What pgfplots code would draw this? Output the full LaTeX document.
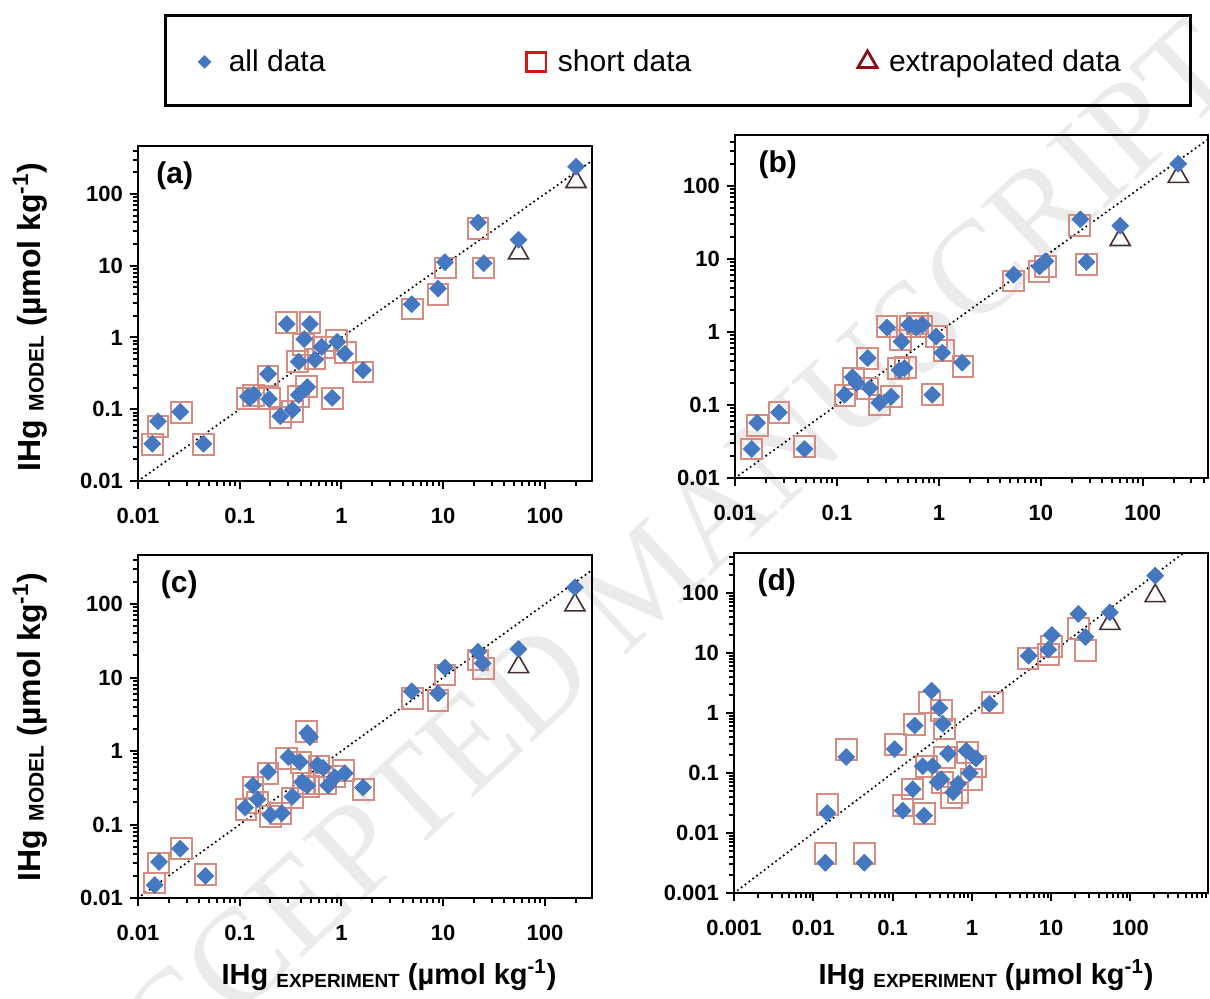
\documentclass[border=0pt]{standalone}
\usepackage{pgfplots}
\pgfplotsset{compat=1.18}
\usepackage{fontspec}
\setmainfont{Liberation Sans}
\newfontfamily\wmfont{Liberation Serif}

\definecolor{diam}{RGB}{68,120,192}
\definecolor{sq}{RGB}{214,140,128}
\definecolor{tri}{RGB}{70,45,45}
\definecolor{legred}{RGB}{220,20,20}
\definecolor{legtri}{RGB}{130,20,20}

\pgfplotsset{
  hgpanel/.style={
    scale only axis, anchor=north west,
    axis line style={line width=1.4pt},
    tick align=outside, xtick pos=left, ytick pos=left,
    major tick length=4pt, minor tick length=2.5pt,
    every tick/.style={black, line width=1pt},
    minor xtick={0.002,0.003,0.004,0.005,0.006,0.007,0.008,0.009,0.02,0.03,0.04,0.05,0.06,0.07,0.08,0.09,0.2,0.3,0.4,0.5,0.6,0.7,0.8,0.9,2,3,4,5,6,7,8,9,20,30,40,50,60,70,80,90,200,300,400,500,600,700,800,900},
    minor ytick={0.002,0.003,0.004,0.005,0.006,0.007,0.008,0.009,0.02,0.03,0.04,0.05,0.06,0.07,0.08,0.09,0.2,0.3,0.4,0.5,0.6,0.7,0.8,0.9,2,3,4,5,6,7,8,9,20,30,40,50,60,70,80,90,200,300,400},
    tick label style={font=\bfseries\fontsize{11}{13}\selectfont},
    xticklabel style={yshift=-6pt},
  },
  hgdiag/.style={black, no marks, line width=1.2pt, line cap=round, dash pattern=on 0pt off 2.4pt},
  hgsq/.style={only marks, mark=square, mark size=5.2pt, mark options={draw=sq, line width=1pt}},
  hgtri/.style={only marks, mark=triangle, mark size=5.8pt, mark options={draw=tri, line width=0.8pt}},
  hgdia/.style={only marks, mark=square*, mark size=3pt, mark options={rotate=45, fill=diam, draw=diam, line width=0.3pt}},
}

\begin{document}
\begin{tikzpicture}
\path[use as bounding box] (0pt,0pt) rectangle (605pt,-499pt);
\node[rotate=43, text=black!8, font=\wmfont\fontsize{66}{66}\selectfont] at (322pt,-290pt) {ACCEPTED MANUSCRIPT};
\draw[line width=1.5pt] (82.5pt,-7.5pt) rectangle (595pt,-52.5pt);

% (a)
\begin{loglogaxis}[hgpanel, at={(69pt,-73pt)}, width=227pt, height=167.5pt,
  xmin=0.01, xmax=290, ymin=0.01, ymax=465,
  xtick={0.01,0.1,1,10,100}, xticklabels={0.01,0.1,1,10,100},
  ytick={0.01,0.1,1,10,100}, yticklabels={0.01,0.1,1,10,100},
  legend style={at={(axis description cs:0.132,1.251)}, anchor=west, draw=none, fill=none,
    legend columns=3, inner sep=0pt, font=\fontsize{15}{18}\selectfont,
    /tikz/every even column/.append style={column sep=0pt}},
  legend cell align=left]
\addlegendimage{only marks, mark=square*, mark size=2.2pt, mark options={rotate=45, fill=diam, draw=diam}}
\addlegendimage{only marks, mark=square, mark size=4.8pt, mark options={draw=legred, line width=1.4pt}}
\addlegendimage{only marks, mark=triangle, mark size=5.5pt, mark options={draw=legtri, line width=1.4pt}}
\legend{\makebox[154pt][l]{\hspace{7pt}all data},\makebox[152pt][l]{\hspace{4pt}short data},\hspace{4pt}extrapolated data}
\addplot[hgdiag] coordinates {(0.01,0.01) (1000,1000)};
\addplot[hgsq] table {
x y
0.0139 0.032
0.0157 0.058
0.027 0.090
0.044 0.032
0.120 0.140
0.137 0.155
0.19 0.29
0.197 0.140
0.25 0.076
0.33 0.092
0.29 1.6
0.49 1.6
0.42 0.80
0.37 0.46
0.55 0.50
0.66 0.72
0.90 0.90
1.10 0.62
1.63 0.33
0.38 0.15
0.45 0.21
0.81 0.14
5.0 2.5
8.9 4.0
10.5 9.3
22 33
25 9.3
};
\addplot[hgtri] table {
x y
55 15
202 148
};
\addplot[hgdia] table {
x y
0.0138 0.033
0.0157 0.068
0.026 0.092
0.044 0.033
0.120 0.150
0.126 0.144
0.137 0.160
0.194 0.139
0.19 0.31
0.25 0.080
0.33 0.098
0.29 1.54
0.49 1.54
0.43 0.95
0.38 0.46
0.55 0.49
0.64 0.74
0.91 0.87
1.08 0.59
1.63 0.35
0.38 0.158
0.46 0.204
0.81 0.144
4.9 2.9
8.9 4.8
10.4 11.2
22 40
25 10.8
55 23
202 239
};
\node[anchor=north west, font=\bfseries\fontsize{15}{17}\selectfont] at (rel axis cs:0.025,0.975) {(a)};
\end{loglogaxis}

% (b)
\begin{loglogaxis}[hgpanel, at={(367.5pt,-67.5pt)}, width=236.5pt, height=171.5pt,
  xmin=0.01, xmax=436, ymin=0.01, ymax=500,
  xtick={0.01,0.1,1,10,100}, xticklabels={0.01,0.1,1,10,100},
  ytick={0.01,0.1,1,10,100}, yticklabels={0.01,0.1,1,10,100}]
\addplot[hgdiag] coordinates {(0.01,0.01) (1000,1000)};
\addplot[hgsq] table {
x y
0.0146 0.025
0.0165 0.053
0.027 0.078
0.048 0.027
0.12 0.135
0.145 0.23
0.20 0.17
0.20 0.43
0.26 0.10
0.34 0.13
0.31 1.2
0.40 0.32
0.47 0.33
0.42 0.78
0.52 1.2
0.62 1.3
0.68 1.2
0.95 0.87
1.12 0.56
0.86 0.14
1.72 0.34
5.4 5.0
9.6 6.8
11.2 8.0
24 29
28 8.5
};
\addplot[hgtri] table {
x y
60 18.4
223 135
};
\addplot[hgdia] table {
x y
0.0146 0.025
0.0165 0.057
0.027 0.079
0.048 0.025
0.119 0.138
0.142 0.24
0.156 0.20
0.21 0.17
0.20 0.44
0.26 0.107
0.34 0.13
0.31 1.15
0.41 0.30
0.46 0.32
0.43 0.74
0.51 1.26
0.60 1.15
0.69 1.26
0.94 0.87
1.08 0.52
0.86 0.138
1.69 0.38
5.4 6.1
9.7 7.9
11.1 9.3
24.4 35
28 9.1
60 28.6
223 202
};
\node[anchor=north west, font=\bfseries\fontsize{15}{17}\selectfont] at (rel axis cs:0.035,0.975) {(b)};
\end{loglogaxis}

% (c)
\begin{loglogaxis}[hgpanel, at={(69pt,-277.5pt)}, width=227pt, height=171.5pt,
  xmin=0.01, xmax=290, ymin=0.01, ymax=465,
  xtick={0.01,0.1,1,10,100}, xticklabels={0.01,0.1,1,10,100},
  ytick={0.01,0.1,1,10,100}, yticklabels={0.01,0.1,1,10,100}]
\addplot[hgdiag] coordinates {(0.01,0.01) (1000,1000)};
\addplot[hgsq] table {
x y
0.0146 0.016
0.0158 0.030
0.027 0.047
0.046 0.021
0.115 0.16
0.135 0.32
0.15 0.20
0.19 0.50
0.20 0.13
0.25 0.14
0.33 0.23
0.29 0.80
0.40 0.70
0.42 0.36
0.47 0.33
0.45 1.85
0.70 0.36
0.60 0.62
0.85 0.45
1.05 0.55
1.65 0.30
5.0 5.2
8.9 4.9
10.4 10.8
22 17.3
25 13.3
};
\addplot[hgtri] table {
x y
55 14
197 97
};
\addplot[hgdia] table {
x y
0.0146 0.015
0.0161 0.031
0.026 0.047
0.046 0.020
0.113 0.17
0.135 0.34
0.15 0.22
0.19 0.52
0.20 0.135
0.26 0.143
0.33 0.24
0.30 0.83
0.39 0.71
0.41 0.38
0.46 0.34
0.46 1.76
0.49 1.55
0.58 0.65
0.66 0.59
0.74 0.34
0.86 0.44
1.08 0.50
1.63 0.32
4.9 6.5
8.9 6.1
10.4 13.7
22 22.4
24.4 15.6
55 24.4
197 169
};
\node[anchor=north west, font=\bfseries\fontsize{15}{17}\selectfont] at (rel axis cs:0.035,0.975) {(c)};
\end{loglogaxis}

% (d)
\begin{loglogaxis}[hgpanel, at={(367pt,-276.5pt)}, width=237pt, height=170pt,
  xmin=0.001, xmax=950, ymin=0.001, ymax=465,
  xtick={0.001,0.01,0.1,1,10,100}, xticklabels={0.001,0.01,0.1,1,10,100},
  ytick={0.001,0.01,0.1,1,10,100}, yticklabels={0.001,0.01,0.1,1,10,100}]
\addplot[hgdiag] coordinates {(0.001,0.001) (1000,1000)};
\addplot[hgsq] table {
x y
0.0142 0.0046
0.015 0.030
0.026 0.25
0.044 0.0046
0.11 0.30
0.135 0.029
0.18 0.054
0.19 0.65
0.25 0.021
0.27 0.13
0.29 1.5
0.41 1.1
0.45 0.54
0.45 0.18
0.43 0.07
0.55 0.039
0.67 0.048
0.89 0.22
0.98 0.079
1.13 0.13
1.8 1.5
5.1 8.2
9.2 9.6
10.2 13
22 26
27 11
};
\addplot[hgtri] table {
x y
55 31
205 90
};
\addplot[hgdia] table {
x y
0.0142 0.0032
0.015 0.0216
0.026 0.185
0.044 0.0032
0.106 0.25
0.134 0.0236
0.18 0.054
0.19 0.62
0.25 0.0195
0.24 0.13
0.31 2.36
0.32 0.13
0.39 1.2
0.43 0.66
0.37 0.07
0.41 0.079
0.50 0.21
0.58 0.048
0.67 0.066
0.85 0.235
0.94 0.10
1.13 0.175
1.66 1.42
5.2 9.0
9.2 11.4
10.2 20
22 45
27 18.5
55 47.6
205 195
};
\node[anchor=north west, font=\bfseries\fontsize{15}{17}\selectfont] at (rel axis cs:0.035,0.975) {(d)};
\end{loglogaxis}

% axis titles
\node[rotate=90, font=\bfseries\fontsize{16}{18}\selectfont] at (15pt,-158.5pt)
  {IHg \raisebox{-1.5pt}{\fontsize{10.5}{11}\selectfont MODEL} (µmol kg\textsuperscript{-1})};
\node[rotate=90, font=\bfseries\fontsize{16}{18}\selectfont] at (15pt,-363.5pt)
  {IHg \raisebox{-1.5pt}{\fontsize{10.5}{11}\selectfont MODEL} (µmol kg\textsuperscript{-1})};
\node[font=\bfseries\fontsize{14.5}{16}\selectfont] at (194.5pt,-487.5pt)
  {IHg \raisebox{-1.5pt}{\fontsize{9.5}{10}\selectfont EXPERIMENT} (µmol kg\textsuperscript{-1})};
\node[font=\bfseries\fontsize{14.5}{16}\selectfont] at (493pt,-487.5pt)
  {IHg \raisebox{-1.5pt}{\fontsize{9.5}{10}\selectfont EXPERIMENT} (µmol kg\textsuperscript{-1})};
\end{tikzpicture}
\end{document}
